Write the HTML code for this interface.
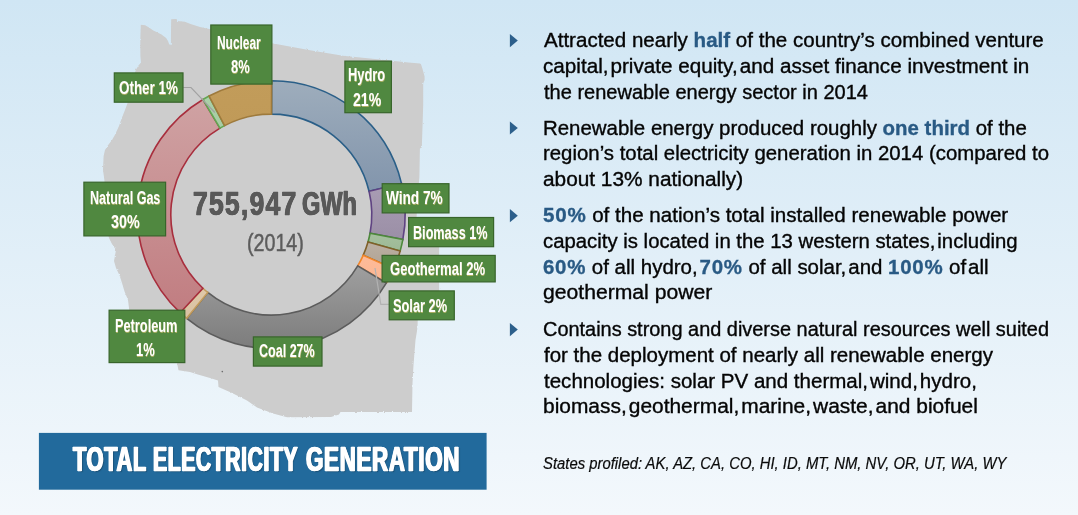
<!DOCTYPE html><html><head><meta charset='utf-8'><title>Total Electricity Generation</title><style>
html,body{margin:0;padding:0}
body{width:1078px;height:515px;overflow:hidden;position:relative;font-family:"Liberation Sans",sans-serif;background:linear-gradient(180deg,#d0e6f4 0%,#f3f8fc 100%)}
.t{position:absolute;white-space:nowrap;line-height:1;transform-origin:0 0;margin:0;padding:0}
.lab{position:absolute;background:#508840;border:1.2px solid #38652b;box-sizing:border-box}
svg{position:absolute;left:0;top:0}
</style></head><body><svg width='1078' height='515' viewBox='0 0 1078 515'><defs><linearGradient id='g0' x1='0' y1='0' x2='0' y2='1'><stop offset='0' stop-color='#9eadbc'/><stop offset='1' stop-color='#8295ac'/></linearGradient><linearGradient id='g1' x1='0' y1='0' x2='0' y2='1'><stop offset='0' stop-color='#a99db4'/><stop offset='1' stop-color='#9b8fa6'/></linearGradient><linearGradient id='g2' x1='0' y1='0' x2='0' y2='1'><stop offset='0' stop-color='#a5c09e'/><stop offset='1' stop-color='#9db996'/></linearGradient><linearGradient id='g3' x1='0' y1='0' x2='0' y2='1'><stop offset='0' stop-color='#bbb0a3'/><stop offset='1' stop-color='#b0a293'/></linearGradient><linearGradient id='g4' x1='0' y1='0' x2='0' y2='1'><stop offset='0' stop-color='#fdbb99'/><stop offset='1' stop-color='#fcb692'/></linearGradient><linearGradient id='g5' x1='0' y1='0' x2='0' y2='1'><stop offset='0' stop-color='#9f9f9f'/><stop offset='1' stop-color='#7c7c7c'/></linearGradient><linearGradient id='g6' x1='0' y1='0' x2='0' y2='1'><stop offset='0' stop-color='#dfc8a8'/><stop offset='1' stop-color='#d9c2a3'/></linearGradient><linearGradient id='g7' x1='0' y1='0' x2='0' y2='1'><stop offset='0' stop-color='#cfa2a3'/><stop offset='1' stop-color='#c17d81'/></linearGradient><linearGradient id='g8' x1='0' y1='0' x2='0' y2='1'><stop offset='0' stop-color='#abd0a8'/><stop offset='1' stop-color='#a7cca4'/></linearGradient><linearGradient id='g9' x1='0' y1='0' x2='0' y2='1'><stop offset='0' stop-color='#c29c5a'/><stop offset='1' stop-color='#c09a58'/></linearGradient><filter id='soft' x='-5%' y='-5%' width='110%' height='110%'><feTurbulence type='fractalNoise' baseFrequency='0.35' numOctaves='2' seed='7' result='n'/><feDisplacementMap in='SourceGraphic' in2='n' scale='2.2' xChannelSelector='R' yChannelSelector='G' result='d'/><feGaussianBlur in='d' stdDeviation='0.45'/></filter></defs><polygon filter='url(#soft)' fill='#cdcdcd' points='140.8,24.8 145.2,25.2 149,27.5 153.3,30.4 157.5,32.6 161.5,34.5 166.1,38 168,41 169,43.8 170.2,45.3 170.9,44 171,30 171.2,19.2 176.6,19.1 177.2,21.1 184.8,21.7 190.6,24 200,26.9 210.4,29.2 240,36.3 272,43.3 310,50.3 343,55.8 375,59 392,60.7 408.3,62.5 420,63.6 421,64.2 422.3,68.3 424.6,76.5 424.6,80 423.2,83.5 423.2,105 422.3,133 421.8,147.5 419.9,148.5 419.4,177 417.5,200 416.6,217 416.6,228 439.1,228 439.2,300 418.2,300 417.6,325 417,331 415.5,340 413.5,365 412.5,383 412,412 340.5,412 339,414.5 331,417 287,417.3 273,413.5 257,407.5 247,400.5 232,393 218.5,387 218,380.5 210,378 197,374.2 190,372 178.5,370.3 177,363 160,340 129.5,312 128,300 124.7,292 122,283 119.4,275 116,268 114,261 116,250 112,244 109,238 105.5,225 104.7,200 104.5,181 103,170 103.6,156 105,150 108,145.3 112,140 115,134.8 119,126 122,117.4 125,110 127.4,103.4 131,85 135.8,70 138.5,65.5 141,62.4 140.4,56 140.3,40'/><path d='M271.65,80.70 A133.9,133.9 0 0 1 401.55,183.57 L369.06,191.31 A100.5,100.5 0 0 0 271.56,114.10 Z' fill='url(#g0)' stroke='#2a5f88' stroke-width='1.6' stroke-linejoin='miter'/><path d='M401.55,183.57 A133.9,133.9 0 0 1 402.87,239.46 L370.05,233.26 A100.5,100.5 0 0 0 369.06,191.31 Z' fill='url(#g1)' stroke='#5f4382' stroke-width='1.6' stroke-linejoin='miter'/><path d='M402.87,239.46 A133.9,133.9 0 0 1 400.14,251.06 L368.00,241.96 A100.5,100.5 0 0 0 370.05,233.26 Z' fill='url(#g2)' stroke='#4d893b' stroke-width='1.6' stroke-linejoin='miter'/><path d='M400.14,251.06 A133.9,133.9 0 0 1 393.72,268.85 L363.18,255.32 A100.5,100.5 0 0 0 368.00,241.96 Z' fill='url(#g3)' stroke='#80602a' stroke-width='1.6' stroke-linejoin='miter'/><path d='M393.72,268.85 A133.9,133.9 0 0 1 386.43,282.96 L357.72,265.91 A100.5,100.5 0 0 0 363.18,255.32 Z' fill='url(#g4)' stroke='#f2862a' stroke-width='1.6' stroke-linejoin='miter'/><path d='M386.43,282.96 A133.9,133.9 0 0 1 186.67,318.37 L207.78,292.48 A100.5,100.5 0 0 0 357.72,265.91 Z' fill='url(#g5)' stroke='#5c5c5c' stroke-width='1.6' stroke-linejoin='miter'/><path d='M186.67,318.37 A133.9,133.9 0 0 1 180.15,312.69 L202.89,288.22 A100.5,100.5 0 0 0 207.78,292.48 Z' fill='url(#g6)' stroke='#c29b5c' stroke-width='1.6' stroke-linejoin='miter'/><path d='M180.15,312.69 A133.9,133.9 0 0 1 202.94,99.47 L219.99,128.18 A100.5,100.5 0 0 0 202.89,288.22 Z' fill='url(#g7)' stroke='#a82e3d' stroke-width='1.6' stroke-linejoin='miter'/><path d='M202.94,99.47 A133.9,133.9 0 0 1 209.06,96.05 L224.58,125.62 A100.5,100.5 0 0 0 219.99,128.18 Z' fill='url(#g8)' stroke='#62a652' stroke-width='1.6' stroke-linejoin='miter'/><path d='M209.06,96.05 A133.9,133.9 0 0 1 271.65,80.70 L271.56,114.10 A100.5,100.5 0 0 0 224.58,125.62 Z' fill='url(#g9)' stroke='#9e7a3c' stroke-width='1.6' stroke-linejoin='miter'/><circle cx='222.3' cy='371.6' r='0.8' fill='#6a6a6a'/><polyline points='375,268 380.8,304.4 389,304.4' fill='none' stroke='#b2b2b2' stroke-width='1.2'/><polyline points='183.2,87.5 191,87.5 214.8,112.5' fill='none' stroke='#a2a2a2' stroke-width='1.1'/><rect x='38.9' y='432.9' width='447.7' height='56.8' fill='#226a9c'/><polygon points='509.9,34.0 517.8,40.6 509.9,47.2' fill='#2c5f8b'/><polygon points='509.9,121.4 517.8,128.0 509.9,134.6' fill='#2c5f8b'/><polygon points='509.9,209.1 517.8,215.7 509.9,222.3' fill='#2c5f8b'/><polygon points='509.9,323.0 517.8,329.6 509.9,336.2' fill='#2c5f8b'/><rect x='210.80' y='25.00' width='61.10' height='59.10' fill='#508840' stroke='#38652b' stroke-width='1.2'/><rect x='344.90' y='61.10' width='46.50' height='51.60' fill='#508840' stroke='#38652b' stroke-width='1.2'/><rect x='114.30' y='72.90' width='68.70' height='29.30' fill='#508840' stroke='#38652b' stroke-width='1.2'/><rect x='83.90' y='182.20' width='81.70' height='53.70' fill='#508840' stroke='#38652b' stroke-width='1.2'/><rect x='382.20' y='183.70' width='66.80' height='29.20' fill='#508840' stroke='#38652b' stroke-width='1.2'/><rect x='408.60' y='217.50' width='85.00' height='29.20' fill='#508840' stroke='#38652b' stroke-width='1.2'/><rect x='382.10' y='255.40' width='113.10' height='26.50' fill='#508840' stroke='#38652b' stroke-width='1.2'/><rect x='389.20' y='290.90' width='65.10' height='28.90' fill='#508840' stroke='#38652b' stroke-width='1.2'/><rect x='109.10' y='310.20' width='75.70' height='52.40' fill='#508840' stroke='#38652b' stroke-width='1.2'/><rect x='253.40' y='336.90' width='68.60' height='29.20' fill='#508840' stroke='#38652b' stroke-width='1.2'/></svg><div class='t' id='t0' style='left:543.80px;top:31.36px;font-size:19.3px;font-weight:normal;font-style:normal;color:#050505;transform:scaleX(1.0655);-webkit-text-stroke:0.35px #050505;'>Attracted nearly <b style="color:#295a84;-webkit-text-stroke:0.3px #295a84">half</b> of the country’s combined venture</div><div class='t' id='t1' style='left:542.80px;top:56.96px;font-size:19.3px;font-weight:normal;font-style:normal;color:#050505;transform:scaleX(1.0721);-webkit-text-stroke:0.35px #050505;'>capital,<span style='letter-spacing:-3.5px'> </span>private equity,<span style='letter-spacing:-3.5px'> </span>and asset finance investment in</div><div class='t' id='t2' style='left:543.80px;top:82.56px;font-size:19.3px;font-weight:normal;font-style:normal;color:#050505;transform:scaleX(1.0387);-webkit-text-stroke:0.35px #050505;'>the renewable energy sector in 2014</div><div class='t' id='t3' style='left:542.80px;top:118.76px;font-size:19.3px;font-weight:normal;font-style:normal;color:#050505;transform:scaleX(1.0596);-webkit-text-stroke:0.35px #050505;'>Renewable energy produced roughly <b style="color:#295a84;-webkit-text-stroke:0.3px #295a84">one third</b> of the</div><div class='t' id='t4' style='left:542.80px;top:144.36px;font-size:19.3px;font-weight:normal;font-style:normal;color:#050505;transform:scaleX(1.0569);-webkit-text-stroke:0.35px #050505;'>region’s total electricity generation in 2014 (compared to</div><div class='t' id='t5' style='left:542.80px;top:169.76px;font-size:19.3px;font-weight:normal;font-style:normal;color:#050505;transform:scaleX(1.0796);-webkit-text-stroke:0.35px #050505;'>about 13% nationally)</div><div class='t' id='t6' style='left:542.80px;top:206.46px;font-size:19.3px;font-weight:normal;font-style:normal;color:#050505;transform:scaleX(1.0673);-webkit-text-stroke:0.35px #050505;'><b style="color:#295a84;-webkit-text-stroke:0.3px #295a84;letter-spacing:0.7px">50%</b> of the nation’s total installed renewable power</div><div class='t' id='t7' style='left:542.80px;top:232.16px;font-size:19.3px;font-weight:normal;font-style:normal;color:#050505;transform:scaleX(1.0550);-webkit-text-stroke:0.35px #050505;'>capacity is located in the 13 western states,<span style='letter-spacing:-3.5px'> </span>including</div><div class='t' id='t8' style='left:542.80px;top:257.76px;font-size:19.3px;font-weight:normal;font-style:normal;color:#050505;transform:scaleX(1.0611);-webkit-text-stroke:0.35px #050505;'><b style="color:#295a84;-webkit-text-stroke:0.3px #295a84;letter-spacing:0.7px">60%</b> of all hydro,<span style='letter-spacing:-3.5px'> </span><b style="color:#295a84;-webkit-text-stroke:0.3px #295a84;letter-spacing:0.7px">70%</b> of all solar,<span style='letter-spacing:-3.5px'> </span>and <b style="color:#295a84;-webkit-text-stroke:0.3px #295a84;letter-spacing:0.7px">100%</b> of<span style='letter-spacing:-3.5px'> </span>all</div><div class='t' id='t9' style='left:542.80px;top:283.16px;font-size:19.3px;font-weight:normal;font-style:normal;color:#050505;transform:scaleX(1.0970);-webkit-text-stroke:0.35px #050505;'>geothermal power</div><div class='t' id='t10' style='left:542.80px;top:320.36px;font-size:19.3px;font-weight:normal;font-style:normal;color:#050505;transform:scaleX(1.0331);-webkit-text-stroke:0.35px #050505;'>Contains strong and diverse natural resources well suited</div><div class='t' id='t11' style='left:543.80px;top:345.76px;font-size:19.3px;font-weight:normal;font-style:normal;color:#050505;transform:scaleX(1.0630);-webkit-text-stroke:0.35px #050505;'>for the deployment of nearly all renewable energy</div><div class='t' id='t12' style='left:543.80px;top:371.96px;font-size:19.3px;font-weight:normal;font-style:normal;color:#050505;transform:scaleX(1.0644);-webkit-text-stroke:0.35px #050505;'>technologies: solar PV and thermal,<span style='letter-spacing:-3.5px'> </span>wind,<span style='letter-spacing:-3.5px'> </span>hydro,</div><div class='t' id='t13' style='left:542.80px;top:397.16px;font-size:19.3px;font-weight:normal;font-style:normal;color:#050505;transform:scaleX(1.0851);-webkit-text-stroke:0.35px #050505;'>biomass,<span style='letter-spacing:-3.5px'> </span>geothermal,<span style='letter-spacing:-3.5px'> </span>marine,<span style='letter-spacing:-3.5px'> </span>waste,<span style='letter-spacing:-3.5px'> </span>and biofuel</div><div class='t' id='t14' style='left:542.80px;top:455.00px;font-size:16.3px;font-weight:normal;font-style:italic;color:#0a0a0a;transform:scaleX(0.9120);-webkit-text-stroke:0.2px #0a0a0a;'>States profiled: AK, AZ, CA, CO, HI, ID, MT, NM, NV, OR, UT, WA, WY</div><div class='t' id='t15' style='left:72.90px;top:441.85px;font-size:34.2px;font-weight:bold;font-style:normal;color:#fff;transform:scaleX(0.6375);-webkit-text-stroke:0.5px #fff;letter-spacing:1px;text-shadow:-1.1px 0 0 #fff,1.1px 0 0 #fff,2.2px 1.2px 1.5px rgba(0,0,0,.28);'>TOTAL</div><div class='t' id='t16' style='left:153.00px;top:441.85px;font-size:34.2px;font-weight:bold;font-style:normal;color:#fff;transform:scaleX(0.6176);-webkit-text-stroke:0.5px #fff;letter-spacing:1px;text-shadow:-1.1px 0 0 #fff,1.1px 0 0 #fff,2.2px 1.2px 1.5px rgba(0,0,0,.28);'>ELECTRICITY</div><div class='t' id='t17' style='left:306.30px;top:441.85px;font-size:34.2px;font-weight:bold;font-style:normal;color:#fff;transform:scaleX(0.6547);-webkit-text-stroke:0.5px #fff;letter-spacing:1px;text-shadow:-1.1px 0 0 #fff,1.1px 0 0 #fff,2.2px 1.2px 1.5px rgba(0,0,0,.28);'>GENERATION</div><div class='t' id='t18' style='left:192.60px;top:187.40px;font-size:33.2px;font-weight:bold;font-style:normal;color:#595959;transform:scaleX(0.7966);-webkit-text-stroke:0.6px #595959;text-shadow:-0.5px 0 0 #595959,0.5px 0 0 #595959;'><span style='letter-spacing:1.6px'>755,94</span>7</div><div class='t' id='t19' style='left:301.80px;top:187.40px;font-size:33.2px;font-weight:bold;font-style:normal;color:#595959;transform:scaleX(0.7094);-webkit-text-stroke:0.6px #595959;text-shadow:-0.6px 0 0 #595959,0.6px 0 0 #595959;'>GWh</div><div class='t' id='t20' style='left:246.50px;top:230.75px;font-size:24.4px;font-weight:normal;font-style:normal;color:#5c5c5c;transform:scaleX(0.8065);-webkit-text-stroke:0.5px #5c5c5c;'>(2014)</div><div class='t' id='t21' style='left:216.90px;top:33.51px;font-size:18.3px;font-weight:bold;font-style:normal;color:#fff;transform:scaleX(0.6517);text-shadow:0.5px 0.5px 0 rgba(230,200,120,.6);'>Nuclear</div><div class='t' id='t22' style='left:230.80px;top:58.41px;font-size:18.3px;font-weight:bold;font-style:normal;color:#fff;transform:scaleX(0.7074);text-shadow:0.5px 0.5px 0 rgba(230,200,120,.6);'>8%</div><div class='t' id='t23' style='left:348.20px;top:66.21px;font-size:18.3px;font-weight:bold;font-style:normal;color:#fff;transform:scaleX(0.7037);text-shadow:0.5px 0.5px 0 rgba(230,200,120,.6);'>Hydro</div><div class='t' id='t24' style='left:352.90px;top:91.01px;font-size:18.3px;font-weight:bold;font-style:normal;color:#fff;transform:scaleX(0.7694);text-shadow:0.5px 0.5px 0 rgba(230,200,120,.6);'>21%</div><div class='t' id='t25' style='left:119.10px;top:78.91px;font-size:18.3px;font-weight:bold;font-style:normal;color:#fff;transform:scaleX(0.7330);text-shadow:0.5px 0.5px 0 rgba(230,200,120,.6);'>Other 1%</div><div class='t' id='t26' style='left:90.10px;top:188.51px;font-size:18.3px;font-weight:bold;font-style:normal;color:#fff;transform:scaleX(0.6852);text-shadow:0.5px 0.5px 0 rgba(230,200,120,.6);'>Natural Gas</div><div class='t' id='t27' style='left:111.10px;top:213.31px;font-size:18.3px;font-weight:bold;font-style:normal;color:#fff;transform:scaleX(0.7834);text-shadow:0.5px 0.5px 0 rgba(230,200,120,.6);'>30%</div><div class='t' id='t28' style='left:386.40px;top:189.41px;font-size:18.3px;font-weight:bold;font-style:normal;color:#fff;transform:scaleX(0.7461);text-shadow:0.5px 0.5px 0 rgba(230,200,120,.6);'>Wind 7%</div><div class='t' id='t29' style='left:413.00px;top:223.61px;font-size:18.3px;font-weight:bold;font-style:normal;color:#fff;transform:scaleX(0.6911);text-shadow:0.5px 0.5px 0 rgba(230,200,120,.6);'>Biomass 1%</div><div class='t' id='t30' style='left:390.10px;top:259.61px;font-size:18.3px;font-weight:bold;font-style:normal;color:#fff;transform:scaleX(0.7139);text-shadow:0.5px 0.5px 0 rgba(230,200,120,.6);'>Geothermal 2%</div><div class='t' id='t31' style='left:393.00px;top:297.21px;font-size:18.3px;font-weight:bold;font-style:normal;color:#fff;transform:scaleX(0.6994);text-shadow:0.5px 0.5px 0 rgba(230,200,120,.6);'>Solar 2%</div><div class='t' id='t32' style='left:115.00px;top:316.51px;font-size:18.3px;font-weight:bold;font-style:normal;color:#fff;transform:scaleX(0.6985);text-shadow:0.5px 0.5px 0 rgba(230,200,120,.6);'>Petroleum</div><div class='t' id='t33' style='left:136.40px;top:341.21px;font-size:18.3px;font-weight:bold;font-style:normal;color:#fff;transform:scaleX(0.7090);text-shadow:0.5px 0.5px 0 rgba(230,200,120,.6);'>1%</div><div class='t' id='t34' style='left:258.70px;top:341.71px;font-size:18.3px;font-weight:bold;font-style:normal;color:#fff;transform:scaleX(0.6853);text-shadow:0.5px 0.5px 0 rgba(230,200,120,.6);'>Coal 27%</div></body></html>
